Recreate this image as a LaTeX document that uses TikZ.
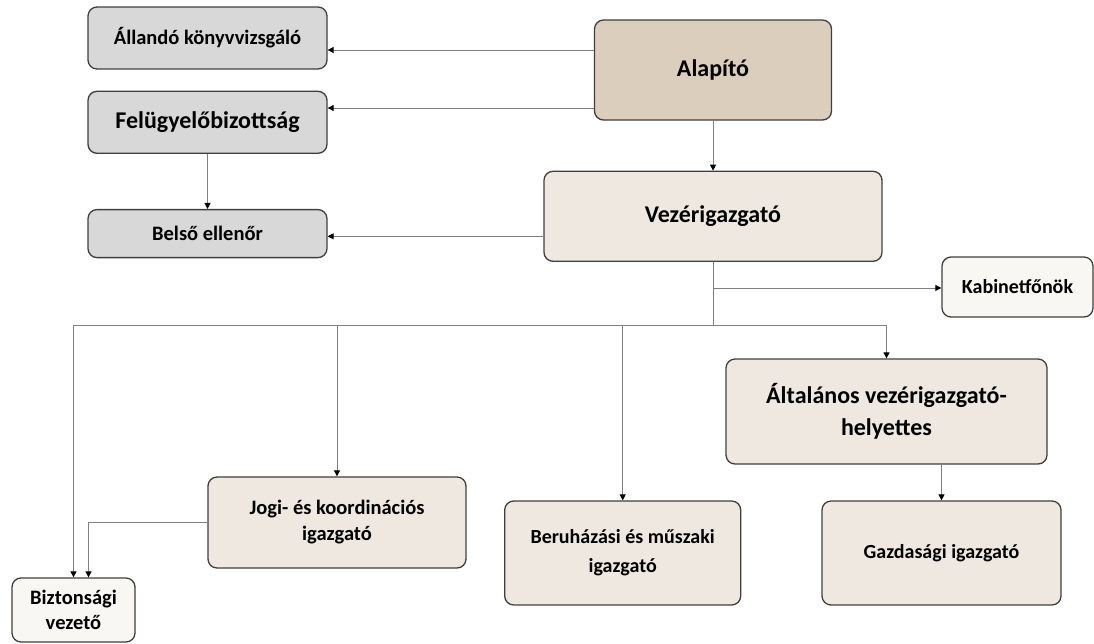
\documentclass[tikz,border=0pt]{standalone}
\usepackage{fontspec}
\setmainfont{Carlito}
\usepackage{tikz}
\usetikzlibrary{arrows.meta,positioning}
\usepackage{xcolor}

\definecolor{boxline}{HTML}{3F3F3F}
\definecolor{wire}{HTML}{808080}
\definecolor{greyfill}{HTML}{D8D8D8}
\definecolor{founderfill}{HTML}{DBCEBD}
\definecolor{unitfill}{HTML}{EEE8E1}
\definecolor{paperfill}{HTML}{F8F7F4}

\begin{document}
\begin{tikzpicture}[
    x=1pt, y=-1pt,
    node distance=20pt and 20pt,
    box/.style={
        rectangle,
        rounded corners=9pt,
        draw=boxline,
        line width=1.3pt,
        align=center,
        inner sep=2pt,
        font=\bfseries\fontsize{20.5}{26}\selectfont
    },
    grey/.style={
        box,
        fill=greyfill,
        minimum width=239pt,
        minimum height=62pt
    },
    top/.style={
        box,
        fill=founderfill,
        font=\bfseries\fontsize{24}{30}\selectfont,
        minimum width=237pt,
        minimum height=100pt
    },
    unit/.style={
        box,
        fill=unitfill,
        minimum height=104pt
    },
    plain/.style={
        box,
        fill=paperfill
    },
    link/.style={wire, line width=0.9pt},
    arrow/.style={link, -{Triangle[length=6pt,width=6pt,black]}}
]

\useasboundingbox (0,0) rectangle (1094,643);

% founder and chief executive
\node[top] at (713,70) (alap) {Alapító};
\node[unit, below=50pt of alap, minimum width=338pt, minimum height=90pt,
    font=\bfseries\fontsize{24}{30}\selectfont] (vez) {Vezérigazgató};

% control bodies on the left
\node[grey] at (207.5,38) (kv) {Állandó könyvvizsgáló};
\node[grey, below=21pt of kv, font=\bfseries\fontsize{24}{30}\selectfont] (fb) {Felügyelőbizottság};
\node[grey, below=55pt of fb, minimum height=48pt] (be) {Belső ellenőr};

% staff and directors
\node[plain, minimum width=151pt, minimum height=60pt,
    font=\bfseries\fontsize{20}{26}\selectfont] at (1017.5,287) (kab) {Kabinetfőnök};
\node[unit, minimum width=321pt, minimum height=105pt,
    font=\bfseries\fontsize{24}{32}\selectfont] at (886.5,411.5) (alt) {Általános vezérigazgató-\\helyettes};
\node[unit, minimum width=239pt, font=\bfseries\fontsize{20}{26}\selectfont] at (941.5,553) (gaz) {Gazdasági igazgató};
\node[unit, left=80pt of gaz, minimum width=236pt,
    font=\bfseries\fontsize{20}{29}\selectfont] (ber) {Beruházási és műszaki\\igazgató};
\node[unit, minimum width=258pt, minimum height=91pt] at (337,522.5) (jogi) {Jogi- és koordinációs\\igazgató};
\node[plain, minimum width=123pt, minimum height=64pt,
    font=\bfseries\fontsize{20.5}{25}\selectfont] at (73.5,610) (bizt) {Biztonsági\\vezető};

% founder links
\coordinate (a1) at ([yshift=20pt]alap.west);
\coordinate (a2) at ([yshift=-38pt]alap.west);
\coordinate (v1) at ([yshift=-20pt]vez.west);
\draw[arrow] (a1) -- (a1 -| kv.east);
\draw[arrow] (a2) -- (a2 -| fb.east);
\draw[arrow] (alap.south) -- (alap.south |- vez.north);
\draw[arrow] (fb.south) -- (be.north);
\draw[arrow] (v1) -- (v1 -| be.east);

% chief executive tree
\coordinate (k1) at ([yshift=-26pt]vez.south);
\coordinate (bus) at ([yshift=-63pt]vez.south);
\draw[link] (vez.south) -- (bus);
\draw[arrow] (k1) -- (k1 -| kab.west);
\draw[link] (bus -| bizt.north) -- (bus -| alt.north);
\foreach \n in {bizt,jogi,ber,alt}{
    \draw[arrow] (bus -| \n.north) -- (\n.north);
}
\draw[arrow] (gaz.north |- alt.south) -- (gaz.north);
\draw[arrow] (jogi.west) -| ([xshift=15pt]bizt.north);

\end{tikzpicture}
\end{document}
